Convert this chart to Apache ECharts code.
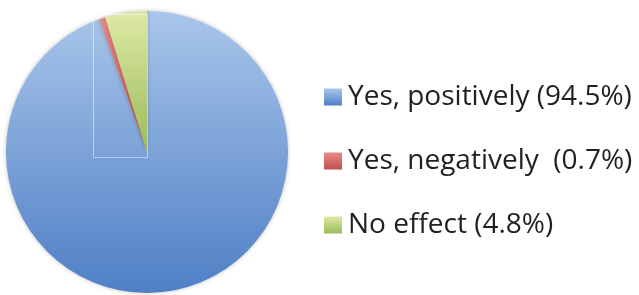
<!DOCTYPE html>
<html>
<head>
<meta charset="utf-8">
<script src="https://cdn.jsdelivr.net/npm/echarts@6/dist/echarts.min.js"></script>
<style>
	html, body {margin: 0; padding: 0; background: #fff;}
	#chart {width: 639px; height: 295px;}
</style>
</head>
<body>
<div id="chart"></div>
<script>
	// 类别与数值
	const categories = ['Yes, positively', 'Yes, negatively', 'No effect'];
	const values = [94.5, 0.7, 4.8];
	const legendLabels = ['Yes, positively (94.5%)', 'Yes, negatively  (0.7%)', 'No effect (4.8%)'];
	const topColors = ['#a9c6ea', '#e58a88', '#dfe9a6'];
	const bottomColors = ['#4f7fc6', '#c0504d', '#9bbb59'];

	function grad(i) {
		return new echarts.graphic.LinearGradient(0, 0, 0, 1, [
			{offset: 0, color: topColors[i]},
			{offset: 1, color: bottomColors[i]}
		]);
	}

	let myChart = echarts.init(document.getElementById('chart'));
	let pieData = categories.map((name, i) => ({
		name: name,
		value: values[i],
		itemStyle: {color: grad(i)}
	}));

	let option = {
		animation: false,
		legend: {
			orient: 'vertical',
			left: 319,
			top: 78,
			itemWidth: 18,
			itemHeight: 17,
			itemGap: 36,
			icon: 'rect',
			data: categories,
			formatter: name => legendLabels[categories.indexOf(name)],
			textStyle: {
				fontFamily: 'Open Sans',
				fontSize: 28,
				color: '#231f20',
				padding: [0, 0, 0, 1]
			}
		},
		series: [{
			type: 'pie',
			center: [147, 152],
			radius: 141,
			startAngle: 90,
			clockwise: true,
			label: {show: false},
			labelLine: {show: false},
			emphasis: {disabled: true},
			itemStyle: {
				borderWidth: 0,
				shadowBlur: 4,
				shadowColor: 'rgba(0,0,0,0.25)'
			},
			data: pieData
		}],
		graphic: [{
			type: 'rect',
			shape: {x: 93.5, y: 14.5, width: 54, height: 143},
			style: {fill: 'none', stroke: 'rgba(255,255,255,0.5)', lineWidth: 1},
			z: 10
		}]
	};
	myChart.setOption(option);
</script>
</body>
</html>
